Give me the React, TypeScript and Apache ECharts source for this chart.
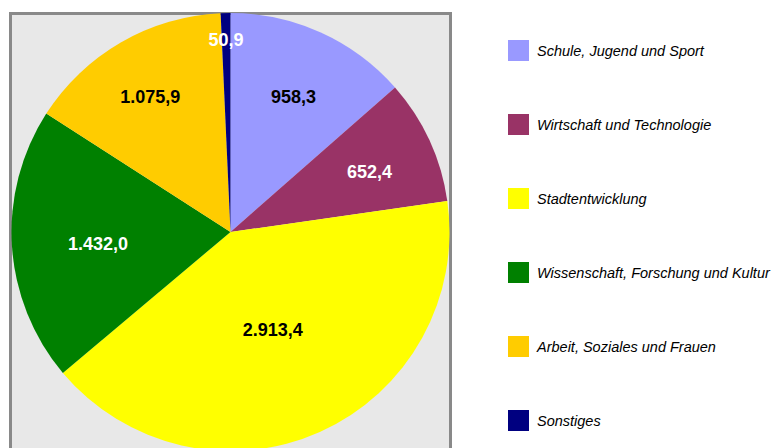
import React, { useEffect, useRef } from "react";
import * as echarts from "echarts";

const categories = [
  "Schule, Jugend und Sport",
  "Wirtschaft und Technologie",
  "Stadtentwicklung",
  "Wissenschaft, Forschung und Kultur",
  "Arbeit, Soziales und Frauen",
  "Sonstiges",
];
const values = [958.3, 652.4, 2913.4, 1432.0, 1075.9, 50.9];

const sliceColors = ["#9999FF", "#993366", "#FFFF00", "#008000", "#FFCC00", "#000080"];
const labelColors = ["#000000", "#FFFFFF", "#000000", "#FFFFFF", "#000000", "#FFFFFF"];
// radial placement of each value label as a fraction of the radius
const labelRadiusFraction = [0.68, 0.68, 0.46, 0.59, 0.715, 0.87];

const FONT = "'Liberation Sans Narrow', 'Arial Narrow', 'Liberation Sans', Arial, sans-serif";
const CENTER: [number, number] = [230.5, 232];
const RADIUS = 219;

function formatDE(v: number): string {
  const fixed = v.toFixed(1);
  const [intPart, dec] = fixed.split(".");
  const withDots = intPart.replace(/\B(?=(\d{3})+(?!\d))/g, ".");
  return withDots + "," + dec;
}

export default function App() {
  const ref = useRef<HTMLDivElement>(null);
  useEffect(() => {
    if (!ref.current) return;
    const chart = echarts.init(ref.current, undefined, { renderer: "svg" });
    chart.setOption({
      animation: false,
      backgroundColor: "#FFFFFF",
      graphic: [
        {
          type: "rect",
          z: -10,
          shape: { x: 10.5, y: 13.5, width: 440, height: 460 },
          style: { fill: "#E8E8E8", stroke: "#898989", lineWidth: 3 },
        },
      ],
      legend: {
        orient: "vertical",
        left: 508,
        top: 40,
        padding: 0,
        itemWidth: 21,
        itemHeight: 21,
        itemGap: 53,
        icon: "rect",
        selectedMode: false,
        data: categories,
        textStyle: {
          fontFamily: FONT,
          fontStyle: "italic",
          fontSize: 14.5,
          color: "#000000",
          padding: [0, 0, 0, 3],
          lineHeight: 21,
        },
      },
      series: [
        {
          type: "pie",
          center: CENTER,
          radius: RADIUS,
          startAngle: 90,
          clockwise: true,
          silent: true,
          avoidLabelOverlap: false,
          itemStyle: { borderWidth: 0 },
          label: {
            show: true,
            position: "inside",
            fontFamily: FONT,
            fontWeight: "bold",
            fontSize: 18,
            formatter: (p: any) => formatDE(p.value),
          },
          labelLine: { show: false },
          labelLayout: (p: any) => {
            const r = p.labelRect;
            const lx = r.x + r.width / 2;
            const ly = r.y + r.height / 2;
            const f = labelRadiusFraction[p.dataIndex] / 0.5;
            return {
              x: CENTER[0] + (lx - CENTER[0]) * f,
              y: CENTER[1] + (ly - CENTER[1]) * f + 4,
              align: "center",
              verticalAlign: "middle",
            };
          },
          data: categories.map((name, i) => ({
            name,
            value: values[i],
            itemStyle: { color: sliceColors[i] },
            label: { color: labelColors[i] },
          })),
        },
      ],
    });
    return () => chart.dispose();
  }, []);
  return (
    <div
      ref={ref}
      style={{ position: "absolute", left: 0, top: 0, width: 771, height: 448 }}
    />
  );
}
